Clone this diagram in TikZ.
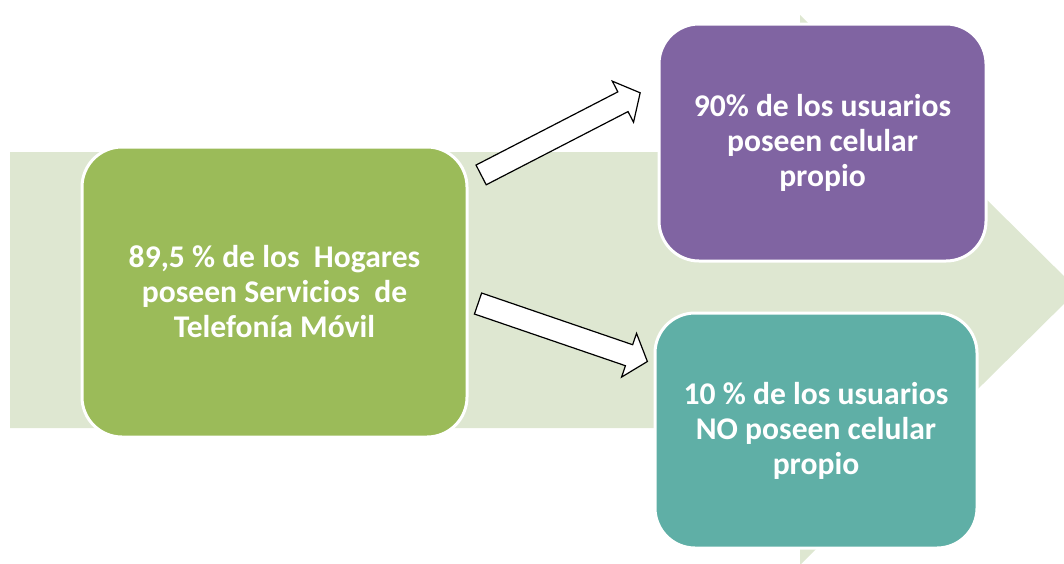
\documentclass[tikz,border=0pt]{standalone}
\usepackage{fontspec}
\setmainfont{Carlito}
\usetikzlibrary{shapes.arrows}
\definecolor{bgarrow}{HTML}{DEE7D1}
\definecolor{boxgreen}{HTML}{9BBB59}
\definecolor{boxpurple}{HTML}{8064A2}
\definecolor{boxteal}{HTML}{5FAFA6}
\tikzset{
  card/.style={rounded corners=40pt, draw=white, line width=3pt, inner sep=0pt,
    align=center, text=white, font=\fontsize{31.6}{35}\selectfont\bfseries},
  blockarrow/.style={single arrow, draw=black, fill=white, line width=1.2pt,
    minimum height=179pt, minimum width=45pt, single arrow head extend=12pt,
    single arrow tip angle=100, inner xsep=0pt, inner ysep=10.5pt}
}
\begin{document}
\begin{tikzpicture}[x=1pt,y=-1pt]
\useasboundingbox (0,0) rectangle (1064,563);
\clip (0,0) rectangle (1064,563);
\fill[bgarrow] (10,152) -- (800,152) -- (800,15) -- (1078,290) -- (800,565) -- (800,428) -- (10,428) -- cycle;
\node[card, fill=boxgreen, minimum width=385pt, minimum height=290pt] (g) at (274.5,292)
  {89,5 \% de los\ \ Hogares\\poseen Servicios\ \ de\\Telefonía Móvil};
\node[card, fill=boxpurple, minimum width=327pt, minimum height=237pt] (p) at (822.5,142.5)
  {90\% de los usuarios\\poseen celular\\propio};
\node[card, fill=boxteal, minimum width=322pt, minimum height=235pt] (t) at (816,430.5)
  {10 \% de los usuarios\\NO poseen celular\\propio};
\node[blockarrow, rotate=27.3] (a1) at (556.5,136) {};
\node[blockarrow, rotate=-18.9] (a2) at (558.3,331) {};
\end{tikzpicture}
\end{document}
